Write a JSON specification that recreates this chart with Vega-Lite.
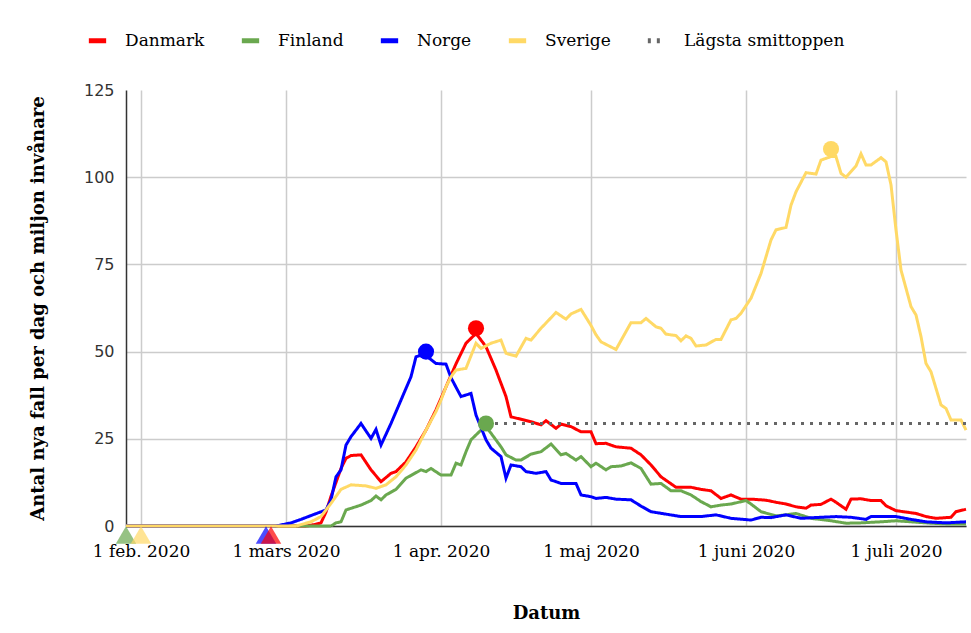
{
  "$schema": "https://vega.github.io/schema/vega-lite/v6.json",
  "width": 840,
  "height": 436,
  "autosize": {"type": "none"},
  "padding": {"left": 126, "top": 90, "right": 5, "bottom": 107},
  "background": "white",
  "config": {
    "view": {"stroke": null},
    "font": "DejaVu Serif"
  },
  "datasets": {
    "series": [
      {"date": "2020-01-29", "country": "Danmark", "value": 0},
      {"date": "2020-03-05", "country": "Danmark", "value": 0},
      {"date": "2020-03-07", "country": "Danmark", "value": 0.5},
      {"date": "2020-03-08", "country": "Danmark", "value": 0.9},
      {"date": "2020-03-09", "country": "Danmark", "value": 4},
      {"date": "2020-03-10", "country": "Danmark", "value": 8.5},
      {"date": "2020-03-11", "country": "Danmark", "value": 12.5},
      {"date": "2020-03-12", "country": "Danmark", "value": 16.5},
      {"date": "2020-03-13", "country": "Danmark", "value": 19.4},
      {"date": "2020-03-14", "country": "Danmark", "value": 20.2},
      {"date": "2020-03-16", "country": "Danmark", "value": 20.4},
      {"date": "2020-03-18", "country": "Danmark", "value": 16.1},
      {"date": "2020-03-20", "country": "Danmark", "value": 12.7},
      {"date": "2020-03-22", "country": "Danmark", "value": 15.1},
      {"date": "2020-03-23", "country": "Danmark", "value": 15.6},
      {"date": "2020-03-25", "country": "Danmark", "value": 18.4},
      {"date": "2020-03-27", "country": "Danmark", "value": 22.7},
      {"date": "2020-03-29", "country": "Danmark", "value": 27.5},
      {"date": "2020-03-31", "country": "Danmark", "value": 33.3},
      {"date": "2020-04-02", "country": "Danmark", "value": 39.9},
      {"date": "2020-04-04", "country": "Danmark", "value": 46.5},
      {"date": "2020-04-06", "country": "Danmark", "value": 52.4},
      {"date": "2020-04-08", "country": "Danmark", "value": 55.2},
      {"date": "2020-04-10", "country": "Danmark", "value": 51.4},
      {"date": "2020-04-12", "country": "Danmark", "value": 44.7},
      {"date": "2020-04-14", "country": "Danmark", "value": 37.1},
      {"date": "2020-04-15", "country": "Danmark", "value": 31.3},
      {"date": "2020-04-17", "country": "Danmark", "value": 30.6},
      {"date": "2020-04-19", "country": "Danmark", "value": 29.9},
      {"date": "2020-04-21", "country": "Danmark", "value": 29.0},
      {"date": "2020-04-22", "country": "Danmark", "value": 30.2},
      {"date": "2020-04-24", "country": "Danmark", "value": 28.0},
      {"date": "2020-04-25", "country": "Danmark", "value": 29.2},
      {"date": "2020-04-27", "country": "Danmark", "value": 28.5},
      {"date": "2020-04-29", "country": "Danmark", "value": 27.0},
      {"date": "2020-05-01", "country": "Danmark", "value": 27.0},
      {"date": "2020-05-02", "country": "Danmark", "value": 23.6},
      {"date": "2020-05-04", "country": "Danmark", "value": 23.7},
      {"date": "2020-05-06", "country": "Danmark", "value": 22.7},
      {"date": "2020-05-09", "country": "Danmark", "value": 22.3},
      {"date": "2020-05-11", "country": "Danmark", "value": 20.4},
      {"date": "2020-05-13", "country": "Danmark", "value": 17.5},
      {"date": "2020-05-15", "country": "Danmark", "value": 14.1},
      {"date": "2020-05-18", "country": "Danmark", "value": 11.1},
      {"date": "2020-05-21", "country": "Danmark", "value": 11.1},
      {"date": "2020-05-23", "country": "Danmark", "value": 10.5},
      {"date": "2020-05-25", "country": "Danmark", "value": 10.1},
      {"date": "2020-05-27", "country": "Danmark", "value": 7.9},
      {"date": "2020-05-29", "country": "Danmark", "value": 8.9},
      {"date": "2020-05-31", "country": "Danmark", "value": 7.7},
      {"date": "2020-06-02", "country": "Danmark", "value": 7.7},
      {"date": "2020-06-05", "country": "Danmark", "value": 7.4},
      {"date": "2020-06-07", "country": "Danmark", "value": 6.8},
      {"date": "2020-06-09", "country": "Danmark", "value": 6.3},
      {"date": "2020-06-11", "country": "Danmark", "value": 5.5},
      {"date": "2020-06-13", "country": "Danmark", "value": 5.1},
      {"date": "2020-06-14", "country": "Danmark", "value": 6.0},
      {"date": "2020-06-16", "country": "Danmark", "value": 6.2},
      {"date": "2020-06-18", "country": "Danmark", "value": 7.7},
      {"date": "2020-06-19", "country": "Danmark", "value": 6.8},
      {"date": "2020-06-21", "country": "Danmark", "value": 4.8},
      {"date": "2020-06-22", "country": "Danmark", "value": 7.7},
      {"date": "2020-06-24", "country": "Danmark", "value": 7.8},
      {"date": "2020-06-26", "country": "Danmark", "value": 7.3},
      {"date": "2020-06-28", "country": "Danmark", "value": 7.3},
      {"date": "2020-06-29", "country": "Danmark", "value": 5.8},
      {"date": "2020-07-01", "country": "Danmark", "value": 4.4},
      {"date": "2020-07-04", "country": "Danmark", "value": 3.8},
      {"date": "2020-07-05", "country": "Danmark", "value": 3.6},
      {"date": "2020-07-07", "country": "Danmark", "value": 2.7},
      {"date": "2020-07-09", "country": "Danmark", "value": 2.2},
      {"date": "2020-07-12", "country": "Danmark", "value": 2.5},
      {"date": "2020-07-13", "country": "Danmark", "value": 4.1},
      {"date": "2020-07-15", "country": "Danmark", "value": 4.8},

      {"date": "2020-01-29", "country": "Finland", "value": 0},
      {"date": "2020-03-10", "country": "Finland", "value": 0},
      {"date": "2020-03-11", "country": "Finland", "value": 0.9},
      {"date": "2020-03-12", "country": "Finland", "value": 1.2},
      {"date": "2020-03-13", "country": "Finland", "value": 4.6},
      {"date": "2020-03-16", "country": "Finland", "value": 6.0},
      {"date": "2020-03-18", "country": "Finland", "value": 7.3},
      {"date": "2020-03-19", "country": "Finland", "value": 8.6},
      {"date": "2020-03-20", "country": "Finland", "value": 7.5},
      {"date": "2020-03-21", "country": "Finland", "value": 8.9},
      {"date": "2020-03-23", "country": "Finland", "value": 10.5},
      {"date": "2020-03-25", "country": "Finland", "value": 13.7},
      {"date": "2020-03-28", "country": "Finland", "value": 16.1},
      {"date": "2020-03-29", "country": "Finland", "value": 15.6},
      {"date": "2020-03-30", "country": "Finland", "value": 16.5},
      {"date": "2020-04-01", "country": "Finland", "value": 14.6},
      {"date": "2020-04-03", "country": "Finland", "value": 14.6},
      {"date": "2020-04-04", "country": "Finland", "value": 18.0},
      {"date": "2020-04-05", "country": "Finland", "value": 17.5},
      {"date": "2020-04-06", "country": "Finland", "value": 21.3},
      {"date": "2020-04-07", "country": "Finland", "value": 24.7},
      {"date": "2020-04-09", "country": "Finland", "value": 27.5},
      {"date": "2020-04-10", "country": "Finland", "value": 28.5},
      {"date": "2020-04-11", "country": "Finland", "value": 26.6},
      {"date": "2020-04-13", "country": "Finland", "value": 22.7},
      {"date": "2020-04-14", "country": "Finland", "value": 20.4},
      {"date": "2020-04-16", "country": "Finland", "value": 18.9},
      {"date": "2020-04-17", "country": "Finland", "value": 18.9},
      {"date": "2020-04-19", "country": "Finland", "value": 20.6},
      {"date": "2020-04-21", "country": "Finland", "value": 21.3},
      {"date": "2020-04-23", "country": "Finland", "value": 23.5},
      {"date": "2020-04-25", "country": "Finland", "value": 20.4},
      {"date": "2020-04-26", "country": "Finland", "value": 20.8},
      {"date": "2020-04-28", "country": "Finland", "value": 18.9},
      {"date": "2020-04-29", "country": "Finland", "value": 19.9},
      {"date": "2020-05-01", "country": "Finland", "value": 17.0},
      {"date": "2020-05-02", "country": "Finland", "value": 18.0},
      {"date": "2020-05-04", "country": "Finland", "value": 16.1},
      {"date": "2020-05-05", "country": "Finland", "value": 17.0},
      {"date": "2020-05-07", "country": "Finland", "value": 17.2},
      {"date": "2020-05-09", "country": "Finland", "value": 18.1},
      {"date": "2020-05-11", "country": "Finland", "value": 16.5},
      {"date": "2020-05-13", "country": "Finland", "value": 12.0},
      {"date": "2020-05-15", "country": "Finland", "value": 12.2},
      {"date": "2020-05-17", "country": "Finland", "value": 10.1},
      {"date": "2020-05-19", "country": "Finland", "value": 10.1},
      {"date": "2020-05-21", "country": "Finland", "value": 8.9},
      {"date": "2020-05-23", "country": "Finland", "value": 7.0},
      {"date": "2020-05-25", "country": "Finland", "value": 5.5},
      {"date": "2020-05-27", "country": "Finland", "value": 6.0},
      {"date": "2020-05-29", "country": "Finland", "value": 6.3},
      {"date": "2020-06-01", "country": "Finland", "value": 7.3},
      {"date": "2020-06-02", "country": "Finland", "value": 6.3},
      {"date": "2020-06-04", "country": "Finland", "value": 4.1},
      {"date": "2020-06-07", "country": "Finland", "value": 2.9},
      {"date": "2020-06-09", "country": "Finland", "value": 3.2},
      {"date": "2020-06-11", "country": "Finland", "value": 3.6},
      {"date": "2020-06-14", "country": "Finland", "value": 2.2},
      {"date": "2020-06-18", "country": "Finland", "value": 1.5},
      {"date": "2020-06-21", "country": "Finland", "value": 0.8},
      {"date": "2020-06-24", "country": "Finland", "value": 0.9},
      {"date": "2020-06-28", "country": "Finland", "value": 1.2},
      {"date": "2020-07-01", "country": "Finland", "value": 1.5},
      {"date": "2020-07-04", "country": "Finland", "value": 1.2},
      {"date": "2020-07-08", "country": "Finland", "value": 0.8},
      {"date": "2020-07-11", "country": "Finland", "value": 0.6},
      {"date": "2020-07-15", "country": "Finland", "value": 0.6},

      {"date": "2020-01-29", "country": "Norge", "value": 0},
      {"date": "2020-02-28", "country": "Norge", "value": 0},
      {"date": "2020-03-02", "country": "Norge", "value": 0.9},
      {"date": "2020-03-04", "country": "Norge", "value": 1.9},
      {"date": "2020-03-06", "country": "Norge", "value": 3.0},
      {"date": "2020-03-09", "country": "Norge", "value": 4.6},
      {"date": "2020-03-10", "country": "Norge", "value": 7.5},
      {"date": "2020-03-11", "country": "Norge", "value": 14.1},
      {"date": "2020-03-12", "country": "Norge", "value": 16.1},
      {"date": "2020-03-13", "country": "Norge", "value": 23.2},
      {"date": "2020-03-14", "country": "Norge", "value": 25.6},
      {"date": "2020-03-16", "country": "Norge", "value": 29.4},
      {"date": "2020-03-18", "country": "Norge", "value": 25.1},
      {"date": "2020-03-19", "country": "Norge", "value": 27.7},
      {"date": "2020-03-20", "country": "Norge", "value": 23.2},
      {"date": "2020-03-22", "country": "Norge", "value": 29.4},
      {"date": "2020-03-24", "country": "Norge", "value": 36.1},
      {"date": "2020-03-26", "country": "Norge", "value": 42.8},
      {"date": "2020-03-27", "country": "Norge", "value": 48.5},
      {"date": "2020-03-28", "country": "Norge", "value": 49.0},
      {"date": "2020-03-29", "country": "Norge", "value": 48.8},
      {"date": "2020-03-31", "country": "Norge", "value": 46.6},
      {"date": "2020-04-02", "country": "Norge", "value": 46.4},
      {"date": "2020-04-03", "country": "Norge", "value": 42.5},
      {"date": "2020-04-05", "country": "Norge", "value": 37.1},
      {"date": "2020-04-07", "country": "Norge", "value": 38.0},
      {"date": "2020-04-08", "country": "Norge", "value": 31.8},
      {"date": "2020-04-10", "country": "Norge", "value": 24.7},
      {"date": "2020-04-11", "country": "Norge", "value": 22.3},
      {"date": "2020-04-13", "country": "Norge", "value": 19.9},
      {"date": "2020-04-14", "country": "Norge", "value": 13.7},
      {"date": "2020-04-15", "country": "Norge", "value": 17.5},
      {"date": "2020-04-17", "country": "Norge", "value": 17.0},
      {"date": "2020-04-18", "country": "Norge", "value": 15.6},
      {"date": "2020-04-20", "country": "Norge", "value": 15.1},
      {"date": "2020-04-22", "country": "Norge", "value": 15.6},
      {"date": "2020-04-23", "country": "Norge", "value": 13.2},
      {"date": "2020-04-25", "country": "Norge", "value": 12.2},
      {"date": "2020-04-28", "country": "Norge", "value": 12.2},
      {"date": "2020-04-29", "country": "Norge", "value": 8.9},
      {"date": "2020-05-01", "country": "Norge", "value": 8.4},
      {"date": "2020-05-02", "country": "Norge", "value": 7.9},
      {"date": "2020-05-04", "country": "Norge", "value": 8.2},
      {"date": "2020-05-06", "country": "Norge", "value": 7.7},
      {"date": "2020-05-09", "country": "Norge", "value": 7.5},
      {"date": "2020-05-11", "country": "Norge", "value": 5.7},
      {"date": "2020-05-13", "country": "Norge", "value": 4.1},
      {"date": "2020-05-16", "country": "Norge", "value": 3.4},
      {"date": "2020-05-19", "country": "Norge", "value": 2.7},
      {"date": "2020-05-23", "country": "Norge", "value": 2.7},
      {"date": "2020-05-26", "country": "Norge", "value": 3.2},
      {"date": "2020-05-29", "country": "Norge", "value": 2.2},
      {"date": "2020-06-02", "country": "Norge", "value": 1.7},
      {"date": "2020-06-04", "country": "Norge", "value": 2.5},
      {"date": "2020-06-06", "country": "Norge", "value": 2.4},
      {"date": "2020-06-09", "country": "Norge", "value": 3.2},
      {"date": "2020-06-12", "country": "Norge", "value": 2.2},
      {"date": "2020-06-16", "country": "Norge", "value": 2.5},
      {"date": "2020-06-19", "country": "Norge", "value": 2.7},
      {"date": "2020-06-22", "country": "Norge", "value": 2.5},
      {"date": "2020-06-25", "country": "Norge", "value": 1.9},
      {"date": "2020-06-26", "country": "Norge", "value": 2.7},
      {"date": "2020-07-01", "country": "Norge", "value": 2.7},
      {"date": "2020-07-04", "country": "Norge", "value": 1.9},
      {"date": "2020-07-07", "country": "Norge", "value": 1.2},
      {"date": "2020-07-11", "country": "Norge", "value": 0.9},
      {"date": "2020-07-15", "country": "Norge", "value": 1.2},

      {"date": "2020-01-29", "country": "Sverige", "value": 0},
      {"date": "2020-03-03", "country": "Sverige", "value": 0},
      {"date": "2020-03-06", "country": "Sverige", "value": 1.2},
      {"date": "2020-03-08", "country": "Sverige", "value": 2.7},
      {"date": "2020-03-10", "country": "Sverige", "value": 6.5},
      {"date": "2020-03-12", "country": "Sverige", "value": 10.5},
      {"date": "2020-03-14", "country": "Sverige", "value": 11.8},
      {"date": "2020-03-17", "country": "Sverige", "value": 11.5},
      {"date": "2020-03-19", "country": "Sverige", "value": 10.8},
      {"date": "2020-03-21", "country": "Sverige", "value": 11.8},
      {"date": "2020-03-23", "country": "Sverige", "value": 14.1},
      {"date": "2020-03-25", "country": "Sverige", "value": 17.5},
      {"date": "2020-03-27", "country": "Sverige", "value": 21.8},
      {"date": "2020-03-29", "country": "Sverige", "value": 27.5},
      {"date": "2020-03-31", "country": "Sverige", "value": 32.8},
      {"date": "2020-04-01", "country": "Sverige", "value": 36.1},
      {"date": "2020-04-02", "country": "Sverige", "value": 39.9},
      {"date": "2020-04-03", "country": "Sverige", "value": 42.8},
      {"date": "2020-04-04", "country": "Sverige", "value": 44.7},
      {"date": "2020-04-06", "country": "Sverige", "value": 45.2},
      {"date": "2020-04-08", "country": "Sverige", "value": 52.4},
      {"date": "2020-04-09", "country": "Sverige", "value": 50.9},
      {"date": "2020-04-11", "country": "Sverige", "value": 52.4},
      {"date": "2020-04-13", "country": "Sverige", "value": 53.3},
      {"date": "2020-04-14", "country": "Sverige", "value": 49.5},
      {"date": "2020-04-16", "country": "Sverige", "value": 48.7},
      {"date": "2020-04-18", "country": "Sverige", "value": 53.8},
      {"date": "2020-04-19", "country": "Sverige", "value": 53.3},
      {"date": "2020-04-21", "country": "Sverige", "value": 56.7},
      {"date": "2020-04-24", "country": "Sverige", "value": 61.2},
      {"date": "2020-04-26", "country": "Sverige", "value": 59.3},
      {"date": "2020-04-27", "country": "Sverige", "value": 60.8},
      {"date": "2020-04-29", "country": "Sverige", "value": 62.1},
      {"date": "2020-05-01", "country": "Sverige", "value": 57.5},
      {"date": "2020-05-02", "country": "Sverige", "value": 54.8},
      {"date": "2020-05-03", "country": "Sverige", "value": 52.8},
      {"date": "2020-05-06", "country": "Sverige", "value": 50.6},
      {"date": "2020-05-09", "country": "Sverige", "value": 58.3},
      {"date": "2020-05-11", "country": "Sverige", "value": 58.3},
      {"date": "2020-05-12", "country": "Sverige", "value": 59.5},
      {"date": "2020-05-14", "country": "Sverige", "value": 57.1},
      {"date": "2020-05-15", "country": "Sverige", "value": 56.7},
      {"date": "2020-05-16", "country": "Sverige", "value": 55.0},
      {"date": "2020-05-18", "country": "Sverige", "value": 54.6},
      {"date": "2020-05-19", "country": "Sverige", "value": 53.1},
      {"date": "2020-05-20", "country": "Sverige", "value": 54.5},
      {"date": "2020-05-21", "country": "Sverige", "value": 53.8},
      {"date": "2020-05-22", "country": "Sverige", "value": 51.6},
      {"date": "2020-05-24", "country": "Sverige", "value": 51.9},
      {"date": "2020-05-26", "country": "Sverige", "value": 53.5},
      {"date": "2020-05-27", "country": "Sverige", "value": 53.5},
      {"date": "2020-05-29", "country": "Sverige", "value": 59.1},
      {"date": "2020-05-30", "country": "Sverige", "value": 59.5},
      {"date": "2020-05-31", "country": "Sverige", "value": 61.0},
      {"date": "2020-06-02", "country": "Sverige", "value": 65.3},
      {"date": "2020-06-04", "country": "Sverige", "value": 72.4},
      {"date": "2020-06-06", "country": "Sverige", "value": 82.0},
      {"date": "2020-06-07", "country": "Sverige", "value": 84.9},
      {"date": "2020-06-09", "country": "Sverige", "value": 85.6},
      {"date": "2020-06-10", "country": "Sverige", "value": 92.0},
      {"date": "2020-06-11", "country": "Sverige", "value": 95.8},
      {"date": "2020-06-13", "country": "Sverige", "value": 101.3},
      {"date": "2020-06-15", "country": "Sverige", "value": 100.9},
      {"date": "2020-06-16", "country": "Sverige", "value": 104.9},
      {"date": "2020-06-18", "country": "Sverige", "value": 105.9},
      {"date": "2020-06-19", "country": "Sverige", "value": 105.9},
      {"date": "2020-06-20", "country": "Sverige", "value": 101.1},
      {"date": "2020-06-21", "country": "Sverige", "value": 100.0},
      {"date": "2020-06-23", "country": "Sverige", "value": 103.2},
      {"date": "2020-06-24", "country": "Sverige", "value": 106.7},
      {"date": "2020-06-25", "country": "Sverige", "value": 103.5},
      {"date": "2020-06-26", "country": "Sverige", "value": 103.5},
      {"date": "2020-06-28", "country": "Sverige", "value": 105.6},
      {"date": "2020-06-29", "country": "Sverige", "value": 104.4},
      {"date": "2020-06-30", "country": "Sverige", "value": 97.8},
      {"date": "2020-07-01", "country": "Sverige", "value": 84.9},
      {"date": "2020-07-02", "country": "Sverige", "value": 73.4},
      {"date": "2020-07-04", "country": "Sverige", "value": 62.9},
      {"date": "2020-07-05", "country": "Sverige", "value": 60.5},
      {"date": "2020-07-06", "country": "Sverige", "value": 54.3},
      {"date": "2020-07-07", "country": "Sverige", "value": 46.6},
      {"date": "2020-07-08", "country": "Sverige", "value": 44.2},
      {"date": "2020-07-10", "country": "Sverige", "value": 34.7},
      {"date": "2020-07-11", "country": "Sverige", "value": 33.7},
      {"date": "2020-07-12", "country": "Sverige", "value": 30.4},
      {"date": "2020-07-14", "country": "Sverige", "value": 30.4},
      {"date": "2020-07-15", "country": "Sverige", "value": 27.5},

      {"date": "2020-04-10", "country": "Lägsta smittoppen", "value": 29.4},
      {"date": "2020-07-15", "country": "Lägsta smittoppen", "value": 29.4}
    ],
    "peaks": [
      {"date": "2020-04-10", "country": "Finland", "value": 29.4},
      {"date": "2020-03-29", "country": "Norge", "value": 50.0},
      {"date": "2020-04-08", "country": "Danmark", "value": 56.7},
      {"date": "2020-06-18", "country": "Sverige", "value": 108.1}
    ],
    "firstcases": [
      {"date": "2020-01-29", "country": "Finland", "value": 0},
      {"date": "2020-02-01", "country": "Sverige", "value": 0},
      {"date": "2020-02-26", "country": "Norge", "value": 0},
      {"date": "2020-02-27", "country": "Danmark", "value": 0}
    ]
  },
  "encoding": {
    "x": {
      "field": "date",
      "type": "temporal",
      "scale": {
        "type": "utc",
        "domain": [
          {"year": 2020, "month": 1, "date": 29, "utc": true},
          {"year": 2020, "month": 7, "date": 15, "utc": true}
        ]
      },
      "axis": {
        "values": [
          {"year": 2020, "month": 2, "date": 1, "utc": true},
          {"year": 2020, "month": 3, "date": 1, "utc": true},
          {"year": 2020, "month": 4, "date": 1, "utc": true},
          {"year": 2020, "month": 5, "date": 1, "utc": true},
          {"year": 2020, "month": 6, "date": 1, "utc": true},
          {"year": 2020, "month": 7, "date": 1, "utc": true}
        ],
        "labelExpr": "'1 ' + ['jan.','feb.','mars','apr.','maj','juni','juli'][utcmonth(datum.value)] + ' 2020'",
        "title": "Datum",
        "titleFont": "DejaVu Serif",
        "titleFontSize": 18,
        "titleFontWeight": "bold",
        "titleColor": "#000",
        "titlePadding": 45,
        "labelFont": "DejaVu Serif",
        "labelFontSize": 17,
        "labelColor": "#000",
        "labelPadding": 17,
        "labelFlush": false,
        "ticks": false,
        "grid": true,
        "gridColor": "#cccccc",
        "gridWidth": 1.5,
        "domainColor": "#333333",
        "domainWidth": 1.5
      }
    },
    "y": {
      "field": "value",
      "type": "quantitative",
      "scale": {"domain": [0, 125], "nice": false, "zero": true},
      "axis": {
        "values": [0, 25, 50, 75, 100, 125],
        "title": "Antal nya fall per dag och miljon invånare",
        "titleFont": "DejaVu Serif",
        "titleFontSize": 18,
        "titleFontWeight": "bold",
        "titleColor": "#000",
        "titlePadding": 36,
        "labelFont": "DejaVu Sans",
        "labelFontSize": 16,
        "labelColor": "#333333",
        "labelPadding": 12,
        "ticks": false,
        "grid": true,
        "gridColor": "#cccccc",
        "gridWidth": 1.5,
        "gridOpacity": {"condition": {"test": "datum.value == 125", "value": 0}, "value": 1},
        "domainColor": "#333333",
        "domainWidth": 1.5
      }
    }
  },
  "layer": [
    {
      "data": {"name": "series"},
      "mark": {"type": "line", "strokeWidth": 3, "interpolate": "linear"},
      "encoding": {
        "color": {
          "field": "country",
          "type": "nominal",
          "scale": {
            "domain": ["Danmark", "Finland", "Norge", "Sverige", "Lägsta smittoppen"],
            "range": ["#ff0000", "#6aa84f", "#0000ff", "#ffd966", "#666666"]
          },
          "legend": {
            "title": null,
            "orient": "none",
            "legendX": -40,
            "legendY": -61,
            "direction": "horizontal",
            "columns": 5,
            "columnPadding": 26,
            "labelFont": "DejaVu Serif",
            "labelFontSize": 17,
            "labelColor": "#000",
            "labelOffset": 16,
            "labelLimit": 400,
            "symbolType": "stroke",
            "symbolSize": 300,
            "symbolStrokeWidth": 5
          }
        },
        "strokeDash": {
          "field": "country",
          "type": "nominal",
          "scale": {
            "domain": ["Danmark", "Finland", "Norge", "Sverige", "Lägsta smittoppen"],
            "range": [[1, 0], [1, 0], [1, 0], [1, 0], [3, 6]]
          },
          "legend": {
            "title": null,
            "orient": "none",
            "legendX": -40,
            "legendY": -61,
            "direction": "horizontal",
            "columns": 5,
            "columnPadding": 26,
            "labelFont": "DejaVu Serif",
            "labelFontSize": 17,
            "labelColor": "#000",
            "labelOffset": 16,
            "labelLimit": 400,
            "symbolType": "stroke",
            "symbolSize": 300,
            "symbolStrokeWidth": 5
          }
        }
      }
    },
    {
      "data": {"name": "peaks"},
      "mark": {"type": "point", "shape": "circle", "filled": true, "size": 260, "opacity": 1},
      "encoding": {
        "fill": {
          "field": "country",
          "type": "nominal",
          "scale": {
            "domain": ["Danmark", "Finland", "Norge", "Sverige", "Lägsta smittoppen"],
            "range": ["#ff0000", "#6aa84f", "#0000ff", "#ffd966", "#666666"]
          },
          "legend": null
        }
      }
    },
    {
      "data": {"name": "firstcases"},
      "mark": {"type": "point", "shape": "triangle-up", "filled": true, "size": 420, "opacity": 0.7, "yOffset": 9},
      "encoding": {
        "fill": {
          "field": "country",
          "type": "nominal",
          "legend": null
        }
      }
    }
  ]
}
